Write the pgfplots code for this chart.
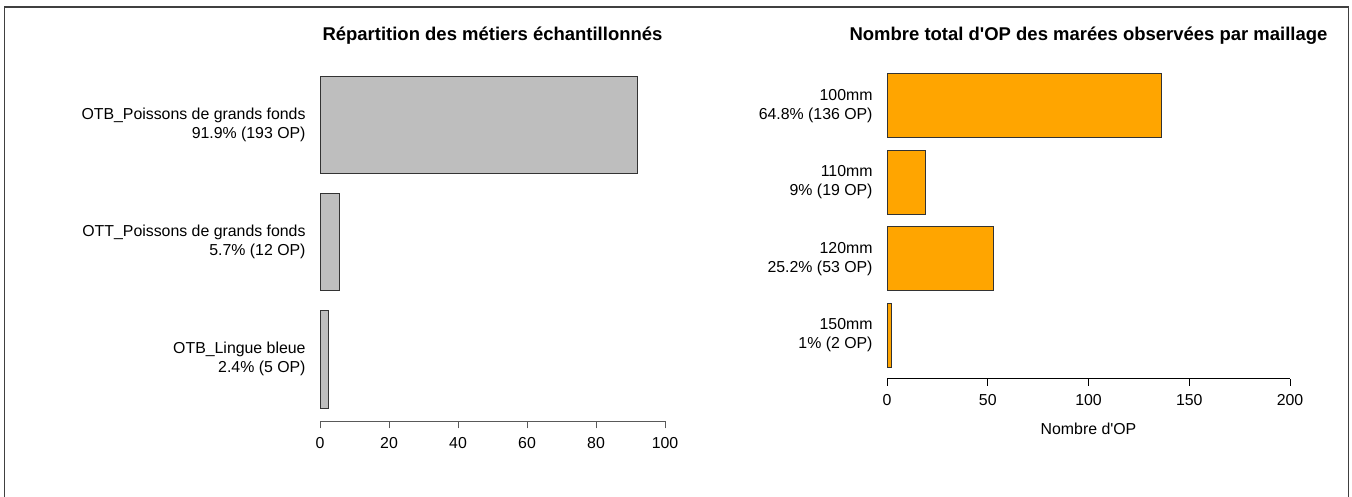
\documentclass[border=0pt]{standalone}
\usepackage{fontspec}
\setmainfont{Liberation Sans}
\usepackage{pgfplots}
\pgfplotsset{compat=1.18}
\definecolor{rgray}{HTML}{BEBEBE}
\definecolor{rorange}{HTML}{FFA500}
\newcommand{\tf}{\fontsize{11.9}{14.1}\selectfont}
\newcommand{\ttl}{\fontsize{13.86}{16.6}\selectfont\bfseries}
\pgfplotsset{
  rstyle/.style={
    scale only axis,
    clip=false,
    xbar,
    bar width=1,
    axis x line*=bottom,
    axis y line*=left,
    y axis line style={draw=none},
    ytick style={draw=none},
    tick align=outside,
    major tick length=5.25pt,
    /pgf/number format/assume math mode=true,
    xticklabel style={font=\tf, inner sep=0pt, anchor=north, yshift=-6.6pt},
    yticklabel style={font=\tf, align=right, inner sep=0pt, anchor=east, xshift=-5.4pt},
    title style={font=\ttl, anchor=base, at={(0.5,1)}, yshift=10.5pt},
  }
}
\begin{document}
\begin{tikzpicture}
\useasboundingbox (0,0) rectangle (1014pt,372pt);
\draw[black!75, line width=1.1pt] (3.2pt,-5pt) rectangle (1011.5pt,366.8pt);
\begin{axis}[rstyle,
  at={(240pt,56.0pt)}, anchor=south west,
  width=258.75pt, height=268.95pt,
  xmin=0, xmax=100, ymin=0.064, ymax=3.736,
  xtick={0,20,40,60,80,100},
  x axis line style={black!65, line width=0.75pt},
  xtick style={black!65, line width=0.75pt},
  ytick={0.7,1.9,3.1},
  yticklabels={{OTB\_Lingue bleue\\2.4\% (5 OP)},{OTT\_Poissons de grands fonds\\5.7\% (12 OP)},{OTB\_Poissons de grands fonds\\91.9\% (193 OP)}},
  title={Répartition des métiers échantillonnés},
]
\addplot[fill=rgray, draw=black!80, line width=0.75pt] coordinates {(2.4,0.7) (5.7,1.9) (91.9,3.1)};
\end{axis}
\begin{axis}[rstyle,
  at={(665.25pt,87.9pt)}, anchor=south west,
  width=302.25pt, height=237.45pt,
  xmin=0, xmax=200, ymin=0.016, ymax=4.984,
  xtick={0,50,100,150,200},
  x axis line style={black, line width=0.75pt},
  xtick style={black, line width=0.75pt},
  ytick={0.7,1.9,3.1,4.3},
  yticklabels={{150mm\\1\% (2 OP)},{120mm\\25.2\% (53 OP)},{110mm\\9\% (19 OP)},{100mm\\64.8\% (136 OP)}},
  title={Nombre total d\textquotesingle OP des marées observées par maillage},
  xlabel={Nombre d\textquotesingle OP},
  xlabel style={font=\tf, at={(0.5,0)}, anchor=base, yshift=-41.6pt},
]
\addplot[fill=rorange, draw=black!80, line width=0.75pt] coordinates {(2,0.7) (53,1.9) (19,3.1) (136,4.3)};
\end{axis}
\end{tikzpicture}
\end{document}
